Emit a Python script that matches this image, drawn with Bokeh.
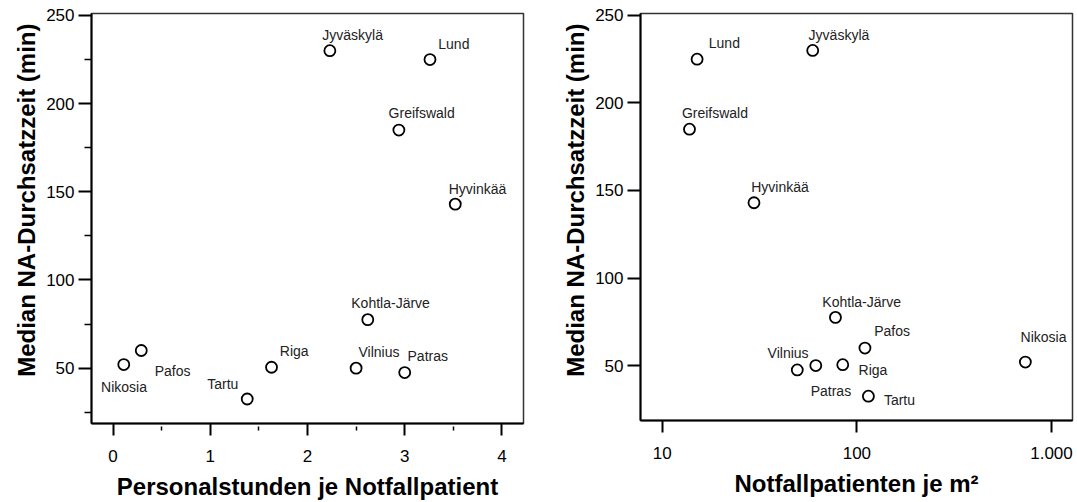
from bokeh.plotting import figure
from bokeh.models import ColumnDataSource, FixedTicker, Range1d, Title
from bokeh.layouts import row
from bokeh.core.properties import value
from bokeh.embed import file_html
from bokeh.resources import INLINE

# ---------------- data ----------------
cities = ["Nikosia", "Pafos", "Tartu", "Riga", "Vilnius", "Patras",
          "Kohtla-Järve", "Jyväskylä", "Lund", "Greifswald", "Hyvinkää"]
durchsatzzeit = [52, 60, 32.5, 50.5, 50, 47.5, 77.5, 230, 225, 185, 143]
personalstunden = [0.11, 0.29, 1.38, 1.63, 2.50, 3.00, 2.62, 2.23, 3.26, 2.94, 3.52]
patienten_m2 = [734, 110, 114.6, 84.6, 61.5, 49.4, 77.6, 59.3, 15.1, 13.8, 29.6]

y_ticks = [50, 100, 150, 200, 250]
y_minor = [25, 75, 125, 175, 225]
x1_ticks = [0, 1, 2, 3, 4]
x1_minor = [0.5, 1.5, 2.5, 3.5]
x2_ticks = [10, 100, 1000]
x2_tick_labels = ["10", "100", "1.000"]

x1_title = "Personalstunden je Notfallpatient"
x2_title = "Notfallpatienten je m²"
y_title = "Median NA-Durchsatzzeit (min)"

# label placement (pixel offsets from each point, layout only)
left_dx = [-22.7, 13.4, -40, 8.3, 2.4, 2.8, -16.5, -7.6, 8.3, -10.3, -6.5]
left_dy = [22, 20.7, -15, -16.3, -16, -16.3, -16.3, -16, -16, -17.3, -15.4]
right_dx = [-4.8, 9.3, 15.5, 15.8, -48.2, 13.4, -13.1, -4.1, 11.7, -7.6, -2.8]
right_dy = [-25.3, -16.6, 3.6, 5, -13, 20.7, -15, -15.3, -16, -16.6, -15.6]

FONT = "Liberation Sans"


def style_axes(p):
    for ax in (p.xaxis[0], p.yaxis[0]):
        ax.axis_line_color = "black"
        ax.axis_line_width = 2
        ax.major_tick_line_color = "black"
        ax.major_tick_line_width = 2
        ax.minor_tick_line_color = "black"
        ax.minor_tick_line_width = 1.5
        ax.major_label_text_font = FONT
        ax.major_label_text_font_size = "17px"
        ax.major_label_text_color = "black"
        ax.axis_label_text_font = FONT
        ax.axis_label_text_font_size = "24px"
        ax.axis_label_text_font_style = "bold"
        ax.axis_label_text_color = "black"
    ya = p.yaxis[0]
    ya.major_tick_in = 0
    ya.major_tick_out = 13
    ya.minor_tick_in = 0
    ya.minor_tick_out = 7
    ya.major_label_standoff = 4
    xa = p.xaxis[0]
    xa.major_tick_in = 0
    xa.major_tick_out = 12
    xa.minor_tick_in = -3
    xa.minor_tick_out = 7
    xa.major_label_standoff = 14
    xa.axis_label_standoff = 8
    p.grid.visible = False
    p.outline_line_color = "#333333"
    p.outline_line_width = 1.5
    p.background_fill_color = "white"
    p.border_fill_color = "white"
    p.add_layout(Title(text=y_title, align="right", offset=10,
                       text_font=FONT, text_font_size="24px",
                       text_font_style="bold", text_color="black",
                       standoff=8), "left")


# ---------------- left panel ----------------
src1 = ColumnDataSource(dict(x=personalstunden, y=durchsatzzeit, name=cities,
                             dx=left_dx, dy=left_dy))
p1 = figure(frame_width=432, frame_height=410,
            x_range=Range1d(-0.222, 4.222), y_range=Range1d(18.6, 251.1),
            min_border_left=91, min_border_right=14, min_border_top=13,
            min_border_bottom=79, toolbar_location=None, output_backend="svg")
p1.xaxis.ticker = FixedTicker(ticks=x1_ticks, minor_ticks=x1_minor)
p1.yaxis.ticker = FixedTicker(ticks=y_ticks, minor_ticks=y_minor)
p1.xaxis.axis_label = x1_title
style_axes(p1)
p1.scatter("x", "y", source=src1, size=11, fill_color="white",
           line_color="black", line_width=1.8)
p1.text("x", "y", text="name", x_offset="dx", y_offset="dy", source=src1,
        text_font=value(FONT), text_font_size="14px", text_align="left",
        text_baseline="middle", text_color="#222222")

# ---------------- right panel ----------------
src2 = ColumnDataSource(dict(x=patienten_m2, y=durchsatzzeit, name=cities,
                             dx=right_dx, dy=right_dy))
p2 = figure(frame_width=432, frame_height=407, x_axis_type="log",
            x_range=Range1d(7.73, 1282), y_range=Range1d(18.6, 251.1),
            min_border_left=103, min_border_right=5, min_border_top=13,
            min_border_bottom=82, toolbar_location=None, output_backend="svg")
p2.xaxis.ticker = FixedTicker(ticks=x2_ticks, minor_ticks=[])
p2.yaxis.ticker = FixedTicker(ticks=y_ticks, minor_ticks=[])
p2.xaxis.major_label_overrides = {float(t): lab for t, lab in zip(x2_ticks, x2_tick_labels)}
p2.xaxis.axis_label = x2_title
style_axes(p2)
p2.scatter("x", "y", source=src2, size=11, fill_color="white",
           line_color="black", line_width=1.8)
p2.text("x", "y", text="name", x_offset="dx", y_offset="dy", source=src2,
        text_font=value(FONT), text_font_size="14px", text_align="left",
        text_baseline="middle", text_color="#222222")

layout = row(p1, p2)
open("out.html", "w").write(file_html(layout, INLINE))
